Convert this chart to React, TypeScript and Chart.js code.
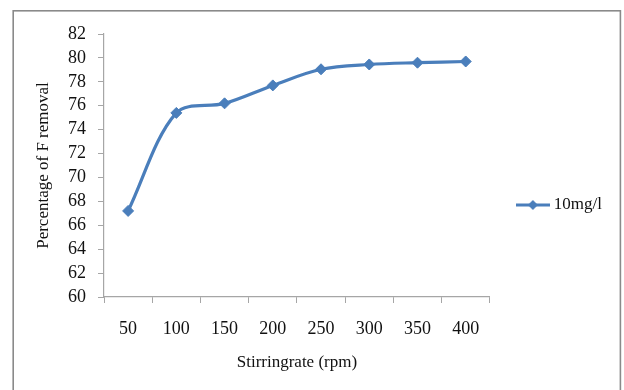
import React, { useEffect, useRef } from "react";
import { Chart, registerables } from "chart.js";

Chart.register(...registerables);

const categories = ["50", "100", "150", "200", "250", "300", "350", "400"];
const removal10 = [67.2, 75.4, 76.2, 77.7, 79.05, 79.45, 79.6, 79.7];
const seriesLabel = "10mg/l";
const yMin = 60;
const yMax = 82;
const yStep = 2;

const LINE_COLOR = "#4a7ebb";
const AXIS_COLOR = "#a6a6a6";
const FONT = "'Liberation Serif', 'Times New Roman', serif";

function makeLegendMarker(): HTMLCanvasElement {
  const c = document.createElement("canvas");
  c.width = 34;
  c.height = 12;
  const ctx = c.getContext("2d")!;
  ctx.strokeStyle = LINE_COLOR;
  ctx.lineWidth = 3;
  ctx.beginPath();
  ctx.moveTo(0, 6);
  ctx.lineTo(34, 6);
  ctx.stroke();
  ctx.fillStyle = LINE_COLOR;
  ctx.beginPath();
  ctx.moveTo(17, 1);
  ctx.lineTo(22, 6);
  ctx.lineTo(17, 11);
  ctx.lineTo(12, 6);
  ctx.closePath();
  ctx.fill();
  return c;
}

const framePlugin = {
  id: "frame",
  beforeDraw(chart: any) {
    const ctx = chart.ctx;
    ctx.save();
    ctx.fillStyle = "#ffffff";
    ctx.fillRect(0, 0, chart.width, chart.height);
    ctx.strokeStyle = "#8a8a8a";
    ctx.lineWidth = 1.6;
    ctx.strokeRect(13.2, 10.8, 607.2, 400);
    ctx.restore();
  },
};

export default function App() {
  const ref = useRef<HTMLCanvasElement>(null);

  useEffect(() => {
    document.body.style.margin = "0";
    const marker = makeLegendMarker();
    const chart = new Chart(ref.current!, {
      type: "line",
      data: {
        labels: categories,
        datasets: [
          {
            label: seriesLabel,
            data: removal10,
            borderColor: LINE_COLOR,
            backgroundColor: LINE_COLOR,
            borderWidth: 3.2,
            pointStyle: "rectRot",
            pointRadius: 5.5,
            pointBackgroundColor: LINE_COLOR,
            pointBorderColor: LINE_COLOR,
            pointBorderWidth: 1,
            tension: 0.33,
            fill: false,
          },
        ],
      },
      options: {
        animation: false,
        responsive: true,
        maintainAspectRatio: false,
        layout: { padding: { left: 14, top: 34, right: 12, bottom: 14 } },
        plugins: {
          tooltip: { enabled: false },
          legend: {
            position: "right",
            labels: {
              usePointStyle: true,
              pointStyleWidth: 25,
              padding: 30.5,
              color: "#111",
              font: { family: FONT, size: 17 },
              generateLabels: (ch: any) =>
                ch.data.datasets.map((ds: any, i: number) => ({
                  text: ds.label,
                  pointStyle: marker,
                  fillStyle: LINE_COLOR,
                  strokeStyle: LINE_COLOR,
                  lineWidth: 0,
                  hidden: false,
                  datasetIndex: i,
                  fontColor: "#111",
                })),
            },
          },
        },
        scales: {
          x: {
            type: "category",
            offset: true,
            afterFit: (s: any) => {
              s.height = 79;
            },
            grid: {
              offset: true,
              drawOnChartArea: false,
              drawTicks: true,
              tickLength: 6,
              color: AXIS_COLOR,
            },
            border: { color: AXIS_COLOR, width: 1.2 },
            ticks: {
              color: "#111",
              padding: 15,
              maxRotation: 0,
              autoSkip: false,
              font: { family: FONT, size: 18 },
            },
            title: {
              display: true,
              text: "Stirringrate (rpm)",
              color: "#111",
              font: { family: FONT, size: 17 },
              padding: { top: 0, bottom: 3 },
            },
          },
          y: {
            min: yMin,
            max: yMax,
            afterFit: (s: any) => {
              s.width = 90;
            },
            grid: {
              drawOnChartArea: false,
              drawTicks: true,
              tickLength: 6,
              color: AXIS_COLOR,
            },
            border: { color: AXIS_COLOR, width: 1.2 },
            ticks: {
              stepSize: yStep,
              autoSkip: false,
              color: "#111",
              padding: 12,
              font: { family: FONT, size: 18 },
            },
            title: {
              display: true,
              text: "Percentage of F removal",
              color: "#111",
              font: { family: FONT, size: 17 },
              padding: { top: 19, bottom: 0 },
            },
          },
        },
      },
      plugins: [framePlugin],
    });
    return () => chart.destroy();
  }, []);

  return (
    <div style={{ width: 624, height: 390, position: "relative" }}>
      <canvas ref={ref} />
    </div>
  );
}
